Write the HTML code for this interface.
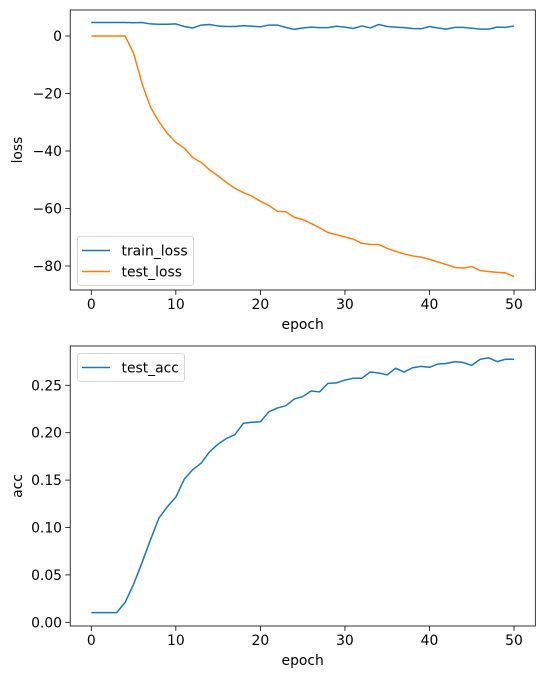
<!DOCTYPE html>
<html><head><meta charset="utf-8"><style>
body{margin:0;background:#fff}
svg text{font-family:"DejaVu Sans","Liberation Sans",sans-serif;font-size:13.9px;fill:#000}
</style></head><body>
<svg id="fig" width="545" height="679" xmlns="http://www.w3.org/2000/svg"></svg>
<script>
const epochs = Array.from({length:51},(_,i)=>i);
const trainLoss = [4.7,4.7,4.7,4.7,4.7,4.6,4.7,4.2,4.1,4.1,4.2,3.3,2.8,3.8,4.0,3.5,3.3,3.3,3.6,3.4,3.2,3.8,3.8,3.0,2.3,2.8,3.1,2.9,2.9,3.4,3.1,2.6,3.5,2.8,4.0,3.3,3.1,2.9,2.6,2.5,3.3,2.8,2.4,3.0,3.0,2.7,2.4,2.4,3.1,3.0,3.5];
const testLoss = [0,0,0,0,0,-6,-16.5,-24.8,-29.8,-33.9,-37,-39,-42.3,-44,-46.6,-48.7,-51,-53,-54.5,-55.7,-57.5,-58.9,-61,-61.1,-63.1,-63.8,-65.2,-66.7,-68.4,-69.1,-69.9,-70.7,-72.1,-72.5,-72.5,-73.9,-74.9,-75.8,-76.5,-76.9,-77.7,-78.6,-79.5,-80.5,-80.7,-80.2,-81.6,-81.9,-82.2,-82.4,-83.7];
const testAcc = [0.0102,0.0102,0.0102,0.0102,0.021,0.040,0.063,0.087,0.110,0.122,0.132,0.151,0.161,0.168,0.180,0.188,0.194,0.198,0.210,0.211,0.2115,0.222,0.226,0.2285,0.2355,0.238,0.244,0.243,0.252,0.2525,0.2555,0.2575,0.2575,0.264,0.263,0.261,0.268,0.264,0.2685,0.270,0.269,0.2725,0.273,0.275,0.274,0.271,0.2775,0.279,0.275,0.2775,0.2775];
const xTicks = [0,10,20,30,40,50];
const lossTicks = [0,-20,-40,-60,-80];
const lossTickLabels = ["0","\u221220","\u221240","\u221260","\u221280"];
const accTicks = [0,0.05,0.10,0.15,0.20,0.25];
const accTickLabels = ["0.00","0.05","0.10","0.15","0.20","0.25"];

const NS="http://www.w3.org/2000/svg";
const svg=document.getElementById('fig');
function mk(tag,attrs,parent){const e=document.createElementNS(NS,tag);for(const k in attrs)e.setAttribute(k,attrs[k]);(parent||svg).appendChild(e);return e;}
const X=v=>91.3+v*(514-91.3)/50;

function axes(top,bottom,yFn,ticks,labels,ylabel,series,legend,legendY,name){
  const g=mk('g',{});
  
  
  series.forEach(s=>{
    const d=s.vals.map((v,i)=>(i?'L':'M')+X(epochs[i]).toFixed(2)+','+yFn(v).toFixed(2)).join('');
    const p=mk('path',{d:d,fill:'none',stroke:s.color,'stroke-width':1.5,'stroke-linejoin':'round'},g);
    
    
  });
  const fr=mk('rect',{x:70.2,y:top,width:465.1,height:bottom-top,fill:'none',stroke:'#000','stroke-width':0.8},g);
  
  
  xTicks.forEach(t=>{
    mk('line',{x1:X(t),x2:X(t),y1:bottom,y2:bottom+4.9,stroke:'#000','stroke-width':0.8},g);
    const tx=mk('text',{x:X(t),y:bottom+19,'text-anchor':'middle'},g);tx.textContent=t;
    
    
  });
  ticks.forEach((t,i)=>{
    const y=yFn(t);
    mk('line',{x1:65.3,x2:70.2,y1:y,y2:y,stroke:'#000','stroke-width':0.8},g);
    const tx=mk('text',{x:62,y:y+5,'text-anchor':'end'},g);tx.textContent=labels[i];
    
    
  });
  const xl=mk('text',{x:302.7,y:bottom+39,'text-anchor':'middle'},g);xl.textContent='epoch';
  
  
  const cy=(top+bottom)/2;
  const yl=mk('text',{x:22,y:cy,'text-anchor':'middle',transform:'rotate(-90 22 '+cy+')'},g);yl.textContent=ylabel;
  
  
  const lg=mk('g',{},g);
  
  
  const lw=legend.length===2?116:107, lh=legend.length*21+7;
  mk('rect',{x:77.5,y:legendY,width:lw,height:lh,rx:2.5,fill:'#fff','fill-opacity':0.8,stroke:'#ccc','stroke-width':0.8},lg);
  legend.forEach((s,i)=>{
    const yy=legendY+14+i*21;
    mk('line',{x1:82,x2:110,y1:yy,y2:yy,stroke:s.color,'stroke-width':1.5},lg);
    const t=mk('text',{x:121.5,y:yy+5},lg);t.textContent=s.name;
    
    
  });
}
const yLoss=v=>36-v*(266-36)/80;
const yAcc=v=>622.3-v*(622.3-385.3)/0.25;
const s1=[{name:'train_loss',vals:trainLoss,color:'#1f77b4'},{name:'test_loss',vals:testLoss,color:'#ff7f0e'}];
axes(10,290,yLoss,lossTicks,lossTickLabels,'loss',s1,s1,236.5,'loss-chart');
const s2=[{name:'test_acc',vals:testAcc,color:'#1f77b4'}];
axes(346,626,yAcc,accTicks,accTickLabels,'acc',s2,s2,353.5,'acc-chart');
</script>
</body></html>
